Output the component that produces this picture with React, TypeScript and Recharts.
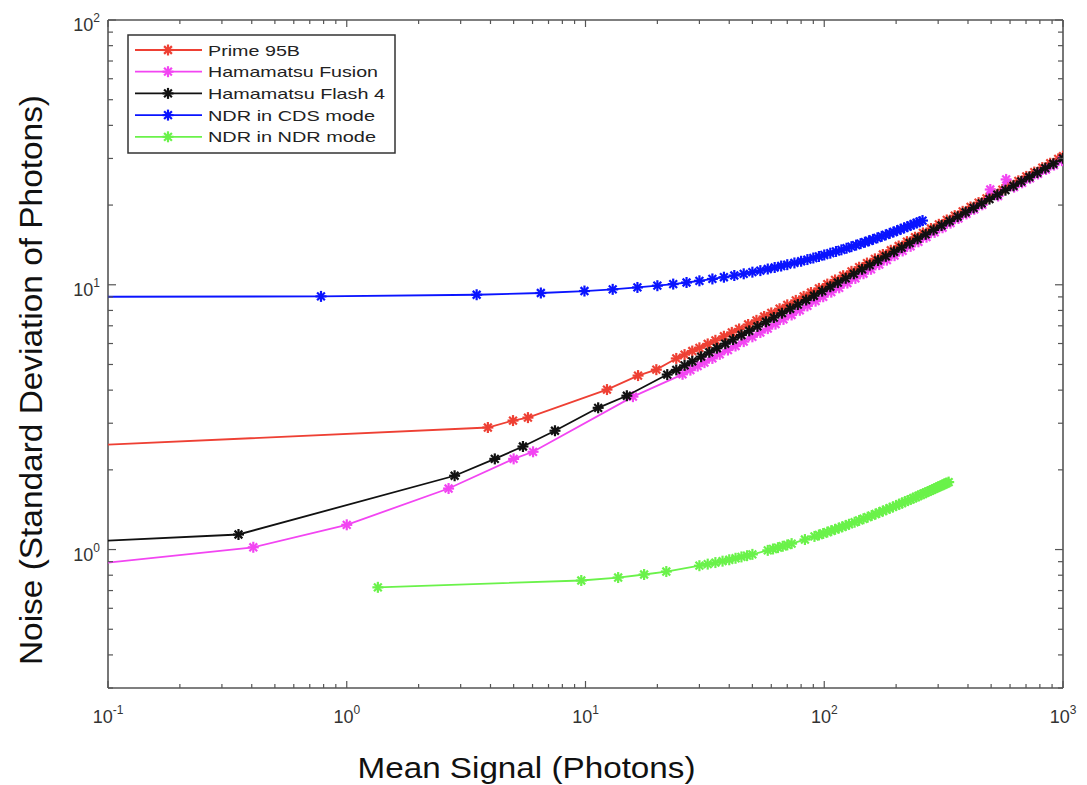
import React from "react";
import { ScatterChart, Scatter, XAxis, YAxis, Legend } from "recharts";

// (log-log axes)
const PRIME_X = [0.05, 3.9, 4.97, 5.74, 12.3, 16.6, 19.8, 24, 26, 28, 30, 32.5, 35, 38, 41, 44, 48, 52, 56, 60, 65, 70, 76, 82, 88, 95, 103, 111, 120, 130, 140, 151, 163, 176, 190, 205, 222, 240, 259, 280, 302, 326, 352, 380, 410, 443, 478, 516, 557, 602, 650, 702, 758, 819, 884, 955, 1000];
const PRIME_Y = [2.42, 2.89, 3.07, 3.15, 4.02, 4.54, 4.78, 5.27, 5.45, 5.62, 5.78, 5.98, 6.17, 6.39, 6.61, 6.81, 7.08, 7.34, 7.59, 7.83, 8.12, 8.4, 8.73, 9.04, 9.35, 9.69, 10.06, 10.43, 10.82, 11.24, 11.65, 12.08, 12.53, 13.01, 13.5, 14.01, 14.56, 15.12, 15.7, 16.31, 16.92, 17.57, 18.24, 18.94, 19.67, 20.43, 21.21, 22.03, 22.88, 23.78, 24.7, 25.66, 26.65, 27.7, 28.77, 29.89, 30.59];

const FUSION_X = [0.05, 0.406, 1.0, 2.67, 5.0, 6.03, 15.8, 25.5, 27.5, 29.5, 31.5, 34, 36.5, 39.5, 42.5, 46, 50, 54, 58, 62.5, 67.5, 73, 79, 85, 92, 99, 107, 115.5, 125, 135, 146, 157, 170, 183, 197, 213, 230, 248, 268, 290, 313, 338, 365, 394, 425, 459, 496, 535, 578, 624, 674, 728, 786, 849, 917, 990];
const FUSION_Y = [0.835, 1.02, 1.24, 1.7, 2.2, 2.34, 3.78, 4.59, 4.76, 4.93, 5.08, 5.27, 5.46, 5.67, 5.87, 6.1, 6.36, 6.6, 6.83, 7.1, 7.4, 7.69, 8.01, 8.32, 8.67, 9.01, 9.38, 9.74, 10.15, 10.57, 11.01, 11.44, 11.92, 12.39, 12.88, 13.42, 13.97, 14.53, 15.13, 15.77, 16.42, 17.09, 17.8, 18.52, 19.28, 20.05, 22.9, 21.64, 25.0, 23.37, 24.28, 25.24, 26.22, 27.25, 28.32, 29.42];

const FLASH_X = [0.05, 0.352, 2.83, 4.17, 5.47, 7.45, 11.3, 14.9, 22, 24, 26, 28, 30.5, 33, 35.5, 38.5, 41.5, 45, 48.5, 52.5, 57, 61.5, 66.5, 72, 77.5, 84, 90.5, 98, 106, 114, 123, 133, 144, 155, 168, 181, 196, 211, 228, 246, 266, 287, 310, 335, 362, 391, 422, 456, 492, 531, 574, 620, 669, 723, 781, 843, 911, 1000];
const FLASH_Y = [1.05, 1.14, 1.9, 2.2, 2.45, 2.81, 3.43, 3.81, 4.58, 4.77, 4.96, 5.14, 5.35, 5.56, 5.76, 5.99, 6.21, 6.46, 6.7, 6.96, 7.25, 7.52, 7.81, 8.12, 8.42, 8.76, 9.09, 9.46, 9.83, 10.19, 10.58, 11.0, 11.44, 11.86, 12.35, 12.81, 13.33, 13.82, 14.37, 14.92, 15.51, 16.11, 16.74, 17.4, 18.08, 18.79, 19.52, 20.29, 21.07, 21.89, 22.76, 23.65, 24.56, 25.53, 26.53, 27.57, 28.65, 30.02];

const CDS_X = [0.05, 0.78, 3.5, 6.5, 9.9, 13, 16.5, 20, 23.3, 26.5, 30, 34, 38, 42, 46, 50, 54, 58, 62, 66, 70, 75, 80, 85, 90, 95, 100, 106, 112, 118, 124, 130, 136, 142, 148, 154, 160, 167, 174, 181, 188, 195, 202, 209, 216, 223, 230, 237, 244, 251, 258];
const CDS_Y = [9.0, 9.04, 9.17, 9.31, 9.47, 9.61, 9.77, 9.92, 10.06, 10.2, 10.35, 10.52, 10.68, 10.84, 11.0, 11.16, 11.31, 11.47, 11.62, 11.77, 11.91, 12.09, 12.27, 12.45, 12.62, 12.79, 12.96, 13.16, 13.36, 13.55, 13.74, 13.93, 14.12, 14.3, 14.48, 14.66, 14.84, 15.04, 15.24, 15.44, 15.64, 15.83, 16.02, 16.21, 16.4, 16.58, 16.77, 16.95, 17.13, 17.3, 17.48];

const NDR_X = [1.35, 9.6, 13.7, 17.6, 21.8, 30, 32.5, 35, 37.5, 40, 42.5, 45, 47.5, 50, 58, 61, 64, 67, 70, 73, 83, 91, 95, 99, 103, 107, 111, 115, 119, 123, 127, 134, 140, 146, 152, 158, 164, 170, 176, 182, 188, 194, 200, 206, 212, 218, 224, 230, 236, 242, 248, 254, 260, 266, 272, 278, 284, 290, 296, 302, 308, 314, 320, 326, 332];
const NDR_Y = [0.72, 0.764, 0.784, 0.805, 0.826, 0.869, 0.881, 0.893, 0.904, 0.915, 0.927, 0.938, 0.948, 0.959, 0.993, 1.005, 1.017, 1.029, 1.041, 1.053, 1.091, 1.121, 1.135, 1.15, 1.164, 1.178, 1.192, 1.205, 1.219, 1.232, 1.246, 1.268, 1.288, 1.307, 1.325, 1.344, 1.362, 1.38, 1.398, 1.415, 1.432, 1.449, 1.466, 1.483, 1.499, 1.516, 1.532, 1.548, 1.564, 1.579, 1.595, 1.61, 1.625, 1.64, 1.655, 1.67, 1.685, 1.699, 1.714, 1.728, 1.742, 1.756, 1.77, 1.784, 1.798];

const X_TICKS = [0.1, 0.2, 0.3, 0.4, 0.5, 0.6, 0.7, 0.8, 0.9, 1, 2, 3, 4, 5, 6, 7, 8, 9, 10, 20, 30, 40, 50, 60, 70, 80, 90, 100, 200, 300, 400, 500, 600, 700, 800, 900, 1000];
const Y_TICKS = [0.3, 0.4, 0.5, 0.6, 0.7, 0.8, 0.9, 1, 2, 3, 4, 5, 6, 7, 8, 9, 10, 20, 30, 40, 50, 60, 70, 80, 90, 100];

// the last series sits on the mirrored top/right axes (same domains) so the box axes get drawn
const SERIES = [
  { name: "Prime 95B", color: "#ee4034", xs: PRIME_X, ys: PRIME_Y, xId: "b", yId: "l" },
  { name: "Hamamatsu Fusion", color: "#f245f2", xs: FUSION_X, ys: FUSION_Y, xId: "b", yId: "l" },
  { name: "Hamamatsu Flash 4", color: "#111111", xs: FLASH_X, ys: FLASH_Y, xId: "b", yId: "l" },
  { name: "NDR in CDS mode", color: "#0a14ff", xs: CDS_X, ys: CDS_Y, xId: "b", yId: "l" },
  { name: "NDR in NDR mode", color: "#6af24a", xs: NDR_X, ys: NDR_Y, xId: "t", yId: "r" },
];
const LEGEND_TEXT_W = [92, 170, 177, 167, 168];

const FONT = "'Liberation Sans', Arial, sans-serif";
const AXIS = "#555";

const isMajor = (v: number) => Math.abs(Math.log10(v) - Math.round(Math.log10(v))) < 1e-9;

function Asterisk({ cx, cy, color }: any) {
  if (cx == null || cy == null) return null;
  const r = 5.5;
  const d = r * 0.707;
  return (
    <g stroke={color} strokeWidth={2.2}>
      <line x1={cx - r} y1={cy} x2={cx + r} y2={cy} />
      <line x1={cx} y1={cy - r} x2={cx} y2={cy + r} />
      <line x1={cx - d} y1={cy - d} x2={cx + d} y2={cy + d} />
      <line x1={cx - d} y1={cy + d} x2={cx + d} y2={cy - d} />
    </g>
  );
}

function Pow10({ x, y, v, anchor }: any) {
  const e = Math.round(Math.log10(v));
  return (
    <text x={x} y={y} textAnchor={anchor} fontFamily={FONT} fontSize={18} fill="#333">
      10
      <tspan dy={-9} fontSize={12}>{e}</tspan>
    </text>
  );
}

function BottomTick({ x, y, payload }: any) {
  const v = payload.value;
  const major = isMajor(v);
  return (
    <g>
      <line x1={x} y1={y} x2={x} y2={y - (major ? 7 : 4)} stroke={AXIS} strokeWidth={1.2} />
      {major && <Pow10 x={x} y={y + 35} v={v} anchor="middle" />}
    </g>
  );
}

function TopTick({ x, y, payload }: any) {
  const major = isMajor(payload.value);
  return <line x1={x} y1={y} x2={x} y2={y + (major ? 7 : 4)} stroke={AXIS} strokeWidth={1.2} />;
}

function LeftTick({ x, y, payload }: any) {
  const v = payload.value;
  const major = isMajor(v);
  return (
    <g>
      <line x1={x} y1={y} x2={x + (major ? 8 : 5)} y2={y} stroke={AXIS} strokeWidth={1.2} />
      {major && <Pow10 x={x - 8} y={y + 11} v={v} anchor="end" />}
    </g>
  );
}

function RightTick({ x, y, payload }: any) {
  const major = isMajor(payload.value);
  return <line x1={x} y1={y} x2={x - (major ? 8 : 5)} y2={y} stroke={AXIS} strokeWidth={1.2} />;
}

function XLabel({ viewBox }: any) {
  const { x, y, width } = viewBox;
  return (
    <text x={x + width / 2 - 59} y={y + 90} textAnchor="middle" fontFamily={FONT} fontSize={30} fill="#111" textLength={338} lengthAdjust="spacingAndGlyphs">
      Mean Signal (Photons)
    </text>
  );
}

function YLabel({ viewBox }: any) {
  const { y, height } = viewBox;
  const cx = 42;
  const cy = y + height / 2 + 26;
  return (
    <text x={cx} y={cy} transform={`rotate(-90, ${cx}, ${cy})`} textAnchor="middle" fontFamily={FONT} fontSize={31} fill="#111" textLength={570} lengthAdjust="spacingAndGlyphs">
      Noise (Standard Deviation of Photons)
    </text>
  );
}

function LegendBox() {
  return (
    <svg width={270} height={121} style={{ display: "block" }}>
      <rect x={1} y={1} width={267} height={118} fill="#fff" stroke="#333" strokeWidth={1.5} />
      {SERIES.map((s, i) => {
        const cy = 16 + i * 21.7;
        return (
          <g key={s.name}>
            <line x1={8} y1={cy} x2={75} y2={cy} stroke={s.color} strokeWidth={1.8} />
            <Asterisk cx={41} cy={cy} color={s.color} />
            <text x={81} y={cy + 5.5} fontFamily={FONT} fontSize={15} fill="#222" textLength={LEGEND_TEXT_W[i]} lengthAdjust="spacingAndGlyphs">
              {s.name}
            </text>
          </g>
        );
      })}
    </svg>
  );
}

export default function App() {
  const datasets = SERIES.map((s) => s.xs.map((x, i) => ({ x, y: s.ys[i] })));
  return (
    <div style={{ position: "absolute", left: 0, top: 0, width: 1087, height: 785, background: "#fff" }}>
      <ScatterChart width={1087} height={785} margin={{ top: 19, right: 23, bottom: 0, left: 0 }}>
        <XAxis
          xAxisId="b"
          dataKey="x"
          type="number"
          scale="log"
          domain={[0.1, 1000]}
          allowDataOverflow
          ticks={X_TICKS}
          interval={0}
          height={97}
          tickSize={0}
          tickMargin={0}
          tickLine={false}
          tick={<BottomTick />}
          axisLine={{ stroke: AXIS, strokeWidth: 1.6 }}
          label={<XLabel />}
        />
        <XAxis
          xAxisId="t"
          orientation="top"
          dataKey="x"
          type="number"
          scale="log"
          domain={[0.1, 1000]}
          allowDataOverflow
          ticks={X_TICKS}
          interval={0}
          height={1}
          tickSize={0}
          tickMargin={0}
          tickLine={false}
          tick={<TopTick />}
          axisLine={{ stroke: AXIS, strokeWidth: 1.6 }}
        />
        <YAxis
          yAxisId="l"
          dataKey="y"
          type="number"
          scale="log"
          domain={[0.3, 100]}
          allowDataOverflow
          ticks={Y_TICKS}
          interval={0}
          width={108}
          tickSize={0}
          tickMargin={0}
          tickLine={false}
          tick={<LeftTick />}
          axisLine={{ stroke: AXIS, strokeWidth: 1.6 }}
          label={<YLabel />}
        />
        <YAxis
          yAxisId="r"
          orientation="right"
          dataKey="y"
          type="number"
          scale="log"
          domain={[0.3, 100]}
          allowDataOverflow
          ticks={Y_TICKS}
          interval={0}
          width={1}
          tickSize={0}
          tickMargin={0}
          tickLine={false}
          tick={<RightTick />}
          axisLine={{ stroke: AXIS, strokeWidth: 1.6 }}
        />
        {SERIES.map((s, i) => (
          <Scatter
            key={s.name}
            name={s.name}
            data={datasets[i]}
            xAxisId={s.xId}
            yAxisId={s.yId}
            line={{ stroke: s.color, strokeWidth: 1.8 }}
            lineType="joint"
            shape={(p: any) => <Asterisk cx={p.cx} cy={p.cy} color={s.color} />}
            isAnimationActive={false}
          />
        ))}
        <Legend
          layout="horizontal"
          verticalAlign="middle"
          align="center"
          wrapperStyle={{ top: 34, left: 127, width: 270, height: 121 }}
          content={() => <LegendBox />}
        />
      </ScatterChart>
    </div>
  );
}
